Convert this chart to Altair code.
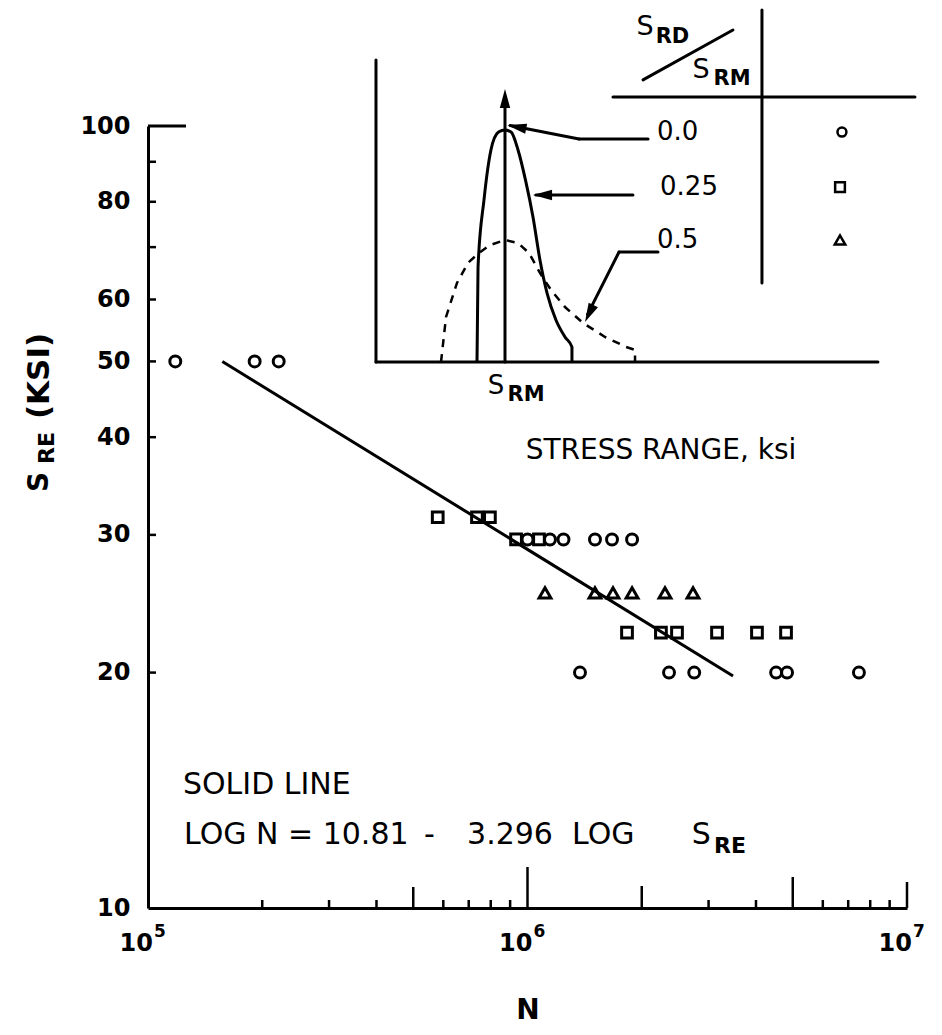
import altair as alt
import pandas as pd

# ---------------- values ----------------
# S-N data (N = cycles, S = effective stress range, ksi)
circle_N = [1.18e5, 1.91e5, 2.21e5,
            1.00e6, 1.146e6, 1.244e6, 1.506e6, 1.670e6, 1.886e6,
            1.375e6, 2.36e6, 2.75e6, 4.52e6, 4.83e6, 7.47e6]
circle_S = [50, 50, 50,
            29.6, 29.6, 29.6, 29.6, 29.6, 29.6,
            20, 20, 20, 20, 20, 20]
square_N = [5.80e5, 7.36e5, 7.96e5, 9.33e5, 1.072e6,
            1.829e6, 2.247e6, 2.477e6, 3.158e6, 4.024e6, 4.80e6]
square_S = [31.6, 31.6, 31.6, 29.6, 29.6,
            22.5, 22.5, 22.5, 22.5, 22.5, 22.5]
triangle_N = [1.112e6, 1.506e6, 1.680e6, 1.886e6, 2.303e6, 2.730e6]
triangle_S = [25.3, 25.3, 25.3, 25.3, 25.3, 25.3]

# regression line end points
fit_N = [1.57e5, 3.48e6]
fit_S = [50.0, 19.8]

# axis values
y_label_values = [10, 20, 30, 40, 50, 60, 80, 100]
y_minor_ticks = [20, 30, 40, 50, 60, 70, 80, 90]
y_major_ticks = [100]
x_minor_ticks = [2e5, 3e5, 4e5, 6e5, 7e5, 8e5, 9e5,
                 3e6, 4e6, 6e6, 7e6, 8e6, 9e6]
x_major_ticks = [5e5, 1e6, 2e6, 5e6, 1e7]
x_label_values = [1e5, 1e6, 1e7]
x_label_base = ["10", "10", "10"]
x_label_exps = ["5", "6", "7"]

# inset: schematic stress-range distributions
# x in units of S_RM, y = relative frequency (peak of the 0.25 curve = 1)
d025_x = [0.783, 0.791, 0.837, 0.891, 0.950, 1.000, 1.047, 1.101, 1.159,
          1.217, 1.271, 1.326, 1.395, 1.465, 1.519, 1.519]
d025_y = [0.000, 0.409, 0.698, 0.914, 0.991, 1.000, 0.991, 0.914, 0.784,
          0.625, 0.440, 0.297, 0.181, 0.108, 0.065, 0.000]
d05_x = [0.504, 0.543, 0.628, 0.713, 0.798, 0.884, 1.000, 1.101, 1.186,
         1.271, 1.357, 1.465, 1.605, 1.775, 1.938, 2.008, 2.008]
d05_y = [0.000, 0.194, 0.341, 0.427, 0.470, 0.504, 0.526, 0.513, 0.470,
         0.384, 0.310, 0.237, 0.168, 0.108, 0.065, 0.052, 0.000]
d00_x = [1.0, 1.0]
d00_y = [0.0, 1.177]
legend_ratios = ["0.0", "0.25", "0.5"]
legend_shapes = ["circle", "square", "triangle-up"]

# ---------------- layout / style ----------------
W, H = 759, 782
FONT = "DejaVu Sans"
BLACK = "black"

x_major_len = [21, 41, 22, 31, 26]
x_minor_len = 8
y_minor_len = 8
y_major_len = 38

xs = alt.Scale(type="log", domain=[1e5, 1e7], nice=False)
ys = alt.Scale(type="log", domain=[10, 100], nice=False)

# inset coordinate system
ox = alt.Scale(domain=[-1.7674, 4.1163], nice=False, zero=False)
oy = alt.Scale(domain=[-2.35345, 1.01724], nice=False, zero=False)


def MX(f="N"):
    return alt.X(f"{f}:Q", scale=xs, axis=None)


def MY(f="S"):
    return alt.Y(f"{f}:Q", scale=ys, axis=None)


def OX(f="x"):
    return alt.X(f"{f}:Q", scale=ox, axis=None)


def OY(f="y"):
    return alt.Y(f"{f}:Q", scale=oy, axis=None)


xaxis = alt.Axis(labels=False, ticks=False, grid=False, domain=True,
                 domainColor=BLACK, domainWidth=3, title="N",
                 titleFont=FONT, titleFontSize=28, titleFontWeight="bold",
                 titleColor=BLACK, titlePadding=88, orient="bottom")
yaxis = alt.Axis(values=y_label_values, format="d", ticks=False, grid=False,
                 domain=True, domainColor=BLACK, domainWidth=3,
                 labelFont=FONT, labelFontSize=24, labelFontWeight="bold",
                 labelColor=BLACK, labelPadding=18, labelOverlap=False,
                 labelBound=False, title=None, orient="left")

# ---------------- main S-N plot ----------------
circles = alt.Chart(pd.DataFrame({"N": circle_N, "S": circle_S})).mark_point(
    shape="circle", size=120, filled=False, strokeWidth=3, color=BLACK, opacity=1
).encode(x=alt.X("N:Q", scale=xs, axis=xaxis), y=alt.Y("S:Q", scale=ys, axis=yaxis))

squares = alt.Chart(pd.DataFrame({"N": square_N, "S": square_S})).mark_point(
    shape="square", size=115, filled=False, strokeWidth=3, color=BLACK, opacity=1
).encode(x=MX(), y=MY())

triangles = alt.Chart(pd.DataFrame({"N": triangle_N, "S": triangle_S})).mark_point(
    shape="triangle-up", size=140, filled=False, strokeWidth=3, color=BLACK, opacity=1
).encode(x=MX(), y=MY())

fit = alt.Chart(pd.DataFrame({"N": fit_N, "S": fit_S})).mark_line(
    color=BLACK, strokeWidth=3
).encode(x=MX(), y=MY())

layers = [circles, squares, triangles, fit]

# inward ticks
layers.append(alt.Chart(pd.DataFrame({"N": x_minor_ticks})).mark_rule(
    color=BLACK, strokeWidth=2.5).encode(x=MX(), y=alt.value(H), y2=alt.value(H - x_minor_len)))
for v, L in zip(x_major_ticks, x_major_len):
    layers.append(alt.Chart(pd.DataFrame({"N": [v]})).mark_rule(
        color=BLACK, strokeWidth=2.5).encode(x=MX(), y=alt.value(H), y2=alt.value(H - L)))
layers.append(alt.Chart(pd.DataFrame({"S": y_minor_ticks})).mark_rule(
    color=BLACK, strokeWidth=2.5).encode(y=MY(), x=alt.value(0), x2=alt.value(y_minor_len)))
layers.append(alt.Chart(pd.DataFrame({"S": y_major_ticks})).mark_rule(
    color=BLACK, strokeWidth=3).encode(y=MY(), x=alt.value(0), x2=alt.value(y_major_len)))

# x tick labels 10^n
xl = pd.DataFrame({"N": x_label_values, "b": x_label_base, "e": x_label_exps})
layers.append(alt.Chart(xl).mark_text(
    font=FONT, fontSize=24, fontWeight="bold", align="right", baseline="middle",
    dx=5, color=BLACK).encode(x=MX(), y=alt.value(H + 36), text="b:N"))
layers.append(alt.Chart(xl).mark_text(
    font=FONT, fontSize=17, fontWeight="bold", align="left", baseline="middle",
    dx=6, color=BLACK).encode(x=MX(), y=alt.value(H + 24), text="e:N"))

# y axis title  S_RE (KSI)
ytitle = [("S", -108, 356, 28, "bold"), ("RE", -101, 322, 22, "bold"),
          ("(KSI)", -108, 250, 31, "bold")]
for t, px, py, fs, fw in ytitle:
    layers.append(alt.Chart(pd.DataFrame({"t": [t]})).mark_text(
        font=FONT, fontSize=fs, fontWeight=fw, angle=270, align="center",
        baseline="middle", color=BLACK).encode(
        x=alt.value(px), y=alt.value(py), text="t:N"))

# equation annotation (placed in data coordinates)
ann = [("SOLID LINE", 1.236e5, 14.37, 30, "normal"),
       ("LOG N = 10.81", 1.244e5, 12.40, 30, "normal"),
       ("-", 5.34e5, 12.40, 30, "normal"),
       ("3.296", 6.93e5, 12.40, 30, "normal"),
       ("LOG", 1.31e6, 12.40, 30, "normal"),
       ("S", 2.71e6, 12.40, 30, "normal"),
       ("RE", 3.10e6, 12.00, 22, "bold")]
for t, n, s, fs, fw in ann:
    layers.append(alt.Chart(pd.DataFrame({"t": [t], "N": [n], "S": [s]})).mark_text(
        font=FONT, fontSize=fs, fontWeight=fw,
        align="left", baseline="middle", color=BLACK).encode(
        x=MX(), y=MY(), text="t:N"))

# ---------------- inset ----------------
ov = []
segs = pd.DataFrame({
    "x": [0.0, 0.0, 1.0, 2.992, 1.837, 2.070,
          2.109, 1.574, 1.992, 2.186, 1.884],
    "y": [0.0, 0.0, 0.0, 1.517, 1.142, 1.216,
          0.961, 0.961, 0.720, 0.474, 0.474],
    "x2": [0.0, 3.891, 1.0, 2.992, 4.178, 2.767,
           1.574, 1.040, 1.240, 1.884, 1.640],
    "y2": [1.302, 0.0, 1.10, 0.341, 1.142, 1.431,
           0.961, 1.019, 0.720, 0.474, 0.205],
})
ov.append(alt.Chart(segs).mark_rule(color=BLACK, strokeWidth=3, strokeCap="round").encode(
    x=OX("x"), y=OY("y"), x2="x2:Q", y2="y2:Q"))

c025 = pd.DataFrame({"x": d025_x, "y": d025_y, "i": list(range(len(d025_x)))})
ov.append(alt.Chart(c025).mark_line(color=BLACK, strokeWidth=3, interpolate="monotone").encode(
    x=OX(), y=OY(), order="i:Q"))
c05 = pd.DataFrame({"x": d05_x, "y": d05_y, "i": list(range(len(d05_x)))})
ov.append(alt.Chart(c05).mark_line(color=BLACK, strokeWidth=2.5, strokeDash=[8, 7]).encode(
    x=OX(), y=OY(), order="i:Q"))

heads = pd.DataFrame({"x": [d00_x[1], 1.019, 1.217, 1.620],
                      "y": [d00_y[1], 1.021, 0.720, 0.172],
                      "a": [0, 281, 270, 206]})
ov.append(alt.Chart(heads).mark_point(
    shape="M0,0L0.6,2.2L-0.6,2.2Z", size=300, filled=True, color=BLACK, opacity=1
).encode(x=OX(), y=OY(), angle=alt.Angle("a:Q", scale=None)))

lg = pd.DataFrame({"x": [3.612, 3.597, 3.597], "y": [0.991, 0.754, 0.526],
                   "t": legend_ratios, "lx": [2.178, 2.202, 2.178]})
for shp, sz, i in zip(legend_shapes, [80, 95, 110], range(3)):
    ov.append(alt.Chart(lg.iloc[[i]]).mark_point(
        shape=shp, size=sz, filled=False, strokeWidth=2.5, color=BLACK, opacity=1
    ).encode(x=OX(), y=OY()))
ov.append(alt.Chart(lg).mark_text(
    font=FONT, fontSize=26, align="left", baseline="middle", color=BLACK
).encode(x=OX("lx"), y=OY(), text="t:N"))

otext = [("S", 2.085, 1.444, 27, "normal", "center"),
         ("RD", 2.298, 1.399, 21, "bold", "center"),
         ("S", 2.519, 1.259, 27, "normal", "center"),
         ("RM", 2.760, 1.220, 21, "bold", "center"),
         ("S", 0.930, -0.103, 26, "normal", "center"),
         ("RM", 1.163, -0.142, 21, "bold", "center"),
         ("STRESS RANGE, ksi", 2.209, -0.384, 28, "normal", "center")]
for t, x, y, fs, fw, al in otext:
    ov.append(alt.Chart(pd.DataFrame({"t": [t], "x": [x], "y": [y]})).mark_text(
        font=FONT, fontSize=fs, fontWeight=fw, align=al, baseline="middle",
        color=BLACK).encode(x=OX(), y=OY(), text="t:N"))

chart = alt.layer(*layers, *ov).resolve_scale(
    x="independent", y="independent"
).properties(
    width=W, height=H,
    autosize=alt.AutoSizeParams(type="none"),
    padding={"left": 140, "top": 118, "right": 20, "bottom": 118},
).configure_view(stroke=None)

chart.save("out.html", embed_options={"renderer": "svg", "actions": False})
